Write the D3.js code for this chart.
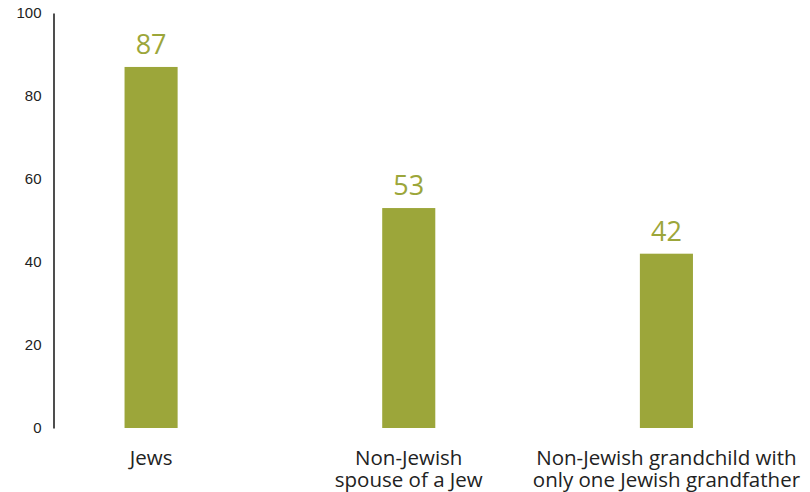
<!DOCTYPE html>
<html><head><meta charset="utf-8">
<script src="https://cdn.jsdelivr.net/npm/d3@7"></script>
<style>body{margin:0;background:#fff}</style>
</head><body>
<svg id="c" width="810" height="492"></svg>
<script>
const categories = [["Jews"], ["Non-Jewish", "spouse of a Jew"], ["Non-Jewish grandchild with", "only one Jewish grandfather"]];
const values = [87, 53, 42];
const yTicks = [0, 20, 40, 60, 80, 100];

const svg = d3.select("#c");
const color = "#9ca63a";
const x = d3.scaleBand().domain(d3.range(values.length)).range([22.25, 795.25]).paddingInner(0.794).paddingOuter(0.397);
const y = d3.scaleLinear().domain([0, 100]).range([428, 13]);

const axis = d3.axisLeft(y).tickValues(yTicks).tickSize(0).tickPadding(12);
const g = svg.append("g").attr("transform", "translate(53.5,0)").call(axis);
g.select(".domain").attr("stroke", "#222").attr("stroke-width", 1.6);
g.selectAll("text").attr("font-family", "Liberation Sans, Arial, sans-serif").attr("font-size", 15).attr("fill", "#222");

svg.selectAll("rect.bar").data(values).join("rect").attr("class", "bar")
  .attr("x", (d, i) => x(i)).attr("width", x.bandwidth())
  .attr("y", d => y(d)).attr("height", d => y(0) - y(d)).attr("fill", color);

svg.selectAll("text.val").data(values).join("text").attr("class", "val")
  .attr("x", (d, i) => x(i) + x.bandwidth() / 2).attr("y", d => y(d) - 13)
  .attr("text-anchor", "middle").attr("font-family", "Open Sans, sans-serif")
  .attr("font-size", 27).attr("fill", color).text(d => d);

const cat = svg.selectAll("text.cat").data(categories).join("text").attr("class", "cat")
  .attr("text-anchor", "middle").attr("font-family", "Open Sans, sans-serif")
  .attr("font-size", 20.5).attr("fill", "#222");
cat.each(function(lines, i) {
  d3.select(this).selectAll("tspan").data(lines).join("tspan")
    .attr("x", x(i) + x.bandwidth() / 2).attr("y", (l, j) => 465 + j * 22).text(l => l);
});
</script>
</body></html>
